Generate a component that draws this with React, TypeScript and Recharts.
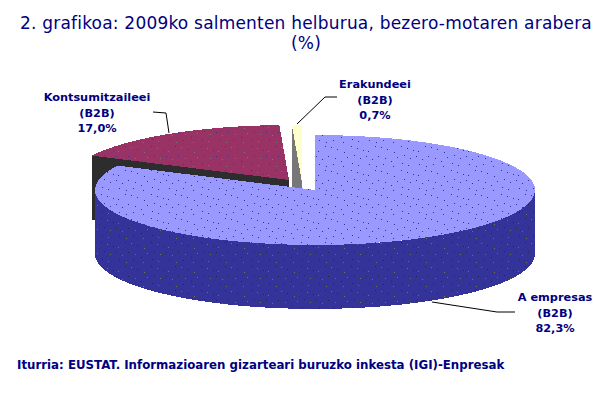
import { Pie, PieChart } from "recharts"

const segments = ["Kontsumitzaileei", "Erakundeei", "A empresas"]
const sublabels = ["(B2B)", "(B2B)", "(B2B)"]
const shares = [17.0, 0.7, 82.3]

const topFills = ["url(#topRed)", "#ffffcc", "url(#topBlue)"]
const faceFills = ["#2d2d2d", "#777777", "none"]

const title = "2. grafikoa: 2009ko salmenten helburua, bezero-motaren arabera"
const unit = "(%)"
const source = "Iturria: EUSTAT. Informazioaren gizarteari buruzko inkesta (IGI)-Enpresak"

const data = segments.map((name, i) => ({ name, value: shares[i] }))

const NAVY = "#000080"
const TILT = 0.25
const DEPTH = 64
const explode = [
  [-26, -10],
  [-13.5, -10.5],
  [0, 0],
]
const labelBoxes = [
  { x: 97, y: 101, line: "M153 112 L166 113 L169 133" },
  { x: 375, y: 88, line: "M337 97 L325 97 L297 124" },
  { x: 555, y: 301, line: "M515 312 L497 312 L432 302" },
]
// speckle positions inside one pattern tile
const speckles = [
  [1, 2], [7, 4], [13, 6], [18, 7], [25, 2], [31, 3], [37, 5], [44, 8],
  [4, 11], [10, 14], [16, 12], [22, 15], [28, 12], [35, 14], [41, 17], [47, 13],
  [2, 19], [8, 21], [19, 20], [26, 22], [33, 20], [43, 22],
]

function point(cx: number, cy: number, r: number, deg: number) {
  const a = (deg * Math.PI) / 180
  return [cx + r * Math.cos(a), cy - r * TILT * Math.sin(a)]
}

function Speckle({ id, base, dotA, dotB }: { id: string; base: string; dotA: string; dotB: string }) {
  return (
    <pattern id={id} width="50" height="24" patternUnits="userSpaceOnUse">
      <rect width="50" height="24" fill={base} />
      {speckles.map(([x, y], i) => (
        <rect key={i} x={x} y={y} width="1" height="1" fill={i % 2 ? dotB : dotA} />
      ))}
    </pattern>
  )
}

function Slice(props: any) {
  const { index, startAngle, endAngle, outerRadius: r } = props
  const cx = props.cx + explode[index][0]
  const cy = props.cy + explode[index][1]
  const ry = r * TILT
  const [sx, sy] = point(cx, cy, r, startAngle)
  const [ex, ey] = point(cx, cy, r, endAngle)
  const large = Math.abs(startAngle - endAngle) > 180 ? 1 : 0
  const top = `M${cx} ${cy} L${sx} ${sy} A${r} ${ry} 0 ${large} 1 ${ex} ${ey} Z`
  const face = `M${cx} ${cy} L${sx} ${sy} L${sx} ${sy + DEPTH} L${cx} ${cy + DEPTH} Z`
  // front wall only exists on the big slice
  const wall =
    index === 2
      ? `M${cx + r} ${cy} A${r} ${ry} 0 0 1 ${cx - r} ${cy} L${cx - r} ${cy + DEPTH} A${r} ${ry} 0 0 0 ${cx + r} ${cy + DEPTH} Z`
      : null
  return (
    <g shapeRendering="crispEdges">
      {wall && <path d={wall} fill="url(#sideBlue)" />}
      {!wall && <path d={face} fill={faceFills[index]} />}
      <path d={top} fill={topFills[index]} />
    </g>
  )
}

function SliceLabel(props: any) {
  const { index, value } = props
  const box = labelBoxes[index]
  const percent = value.toFixed(1).replace(".", ",") + "%"
  return (
    <g>
      <path d={box.line} fill="none" stroke="#000" strokeWidth={1} />
      <text x={box.x} y={box.y} textAnchor="middle" fontFamily="DejaVu Sans" fontWeight="bold" fontSize={11.3} fill={NAVY}>
        <tspan x={box.x}>{segments[index]}</tspan>
        <tspan x={box.x} dy={15.5}>{sublabels[index]}</tspan>
        <tspan x={box.x} dy={15}>{percent}</tspan>
      </text>
    </g>
  )
}

export default function App() {
  return (
    <div style={{ position: "absolute", left: 0, top: 0, width: 608, height: 400, background: "#fff" }}>
      <PieChart width={608} height={400} margin={{ top: 0, right: 0, bottom: 0, left: 0 }}>
        <defs>
          <Speckle id="topBlue" base="#9999ff" dotA="#333399" dotB="#333399" />
          <Speckle id="topRed" base="#993366" dotA="#333399" dotB="#777777" />
          <Speckle id="sideBlue" base="#333399" dotA="#222244" dotB="#777744" />
        </defs>
        <Pie
          data={data}
          dataKey="value"
          cx={315}
          cy={190}
          outerRadius={220}
          startAngle={153.72}
          endAngle={-206.28}
          stroke="none"
          shape={Slice}
          label={SliceLabel}
          labelLine={false}
          isAnimationActive={false}
        />
        <text x={306} y={29} textAnchor="middle" fontFamily="DejaVu Sans" fontSize={17} letterSpacing={0.2} fill={NAVY}>
          {title}
        </text>
        <text x={306} y={49} textAnchor="middle" fontFamily="DejaVu Sans" fontSize={17} letterSpacing={0.2} fill={NAVY}>
          {unit}
        </text>
        <text x={17} y={369} fontFamily="DejaVu Sans" fontWeight="bold" fontSize={11.8} fill={NAVY}>
          {source}
        </text>
      </PieChart>
    </div>
  )
}
